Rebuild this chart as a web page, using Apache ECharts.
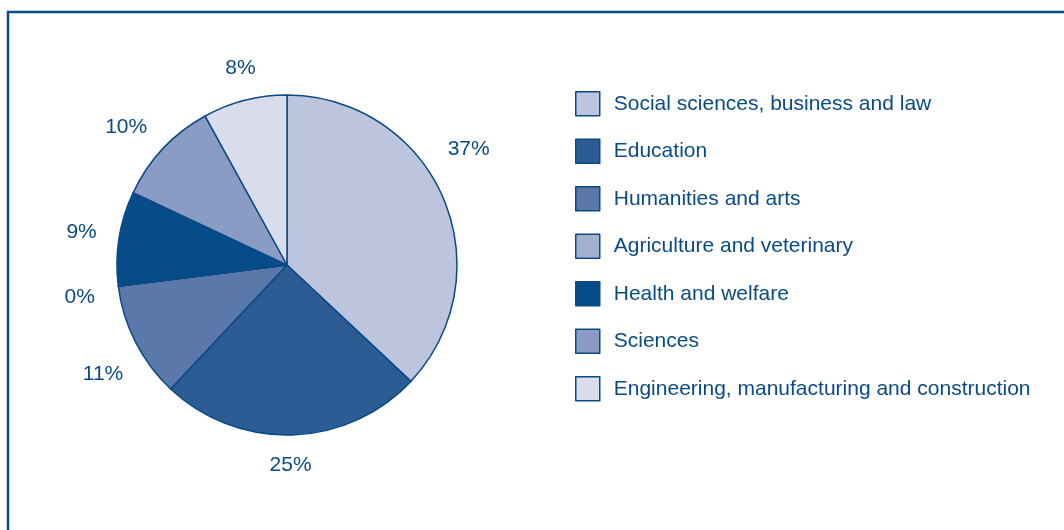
<!DOCTYPE html>
<html>
<head>
<meta charset="utf-8">
<script src="https://cdn.jsdelivr.net/npm/echarts@6/dist/echarts.min.js"></script>
<style>
  html, body { margin: 0; padding: 0; background: #ffffff; }
  #chart { width: 1064px; height: 530px; }
</style>
</head>
<body>
<div id="chart"></div>
<script>
// Share of graduates by field of study (%)
const fields = [
  'Social sciences, business and law',
  'Education',
  'Humanities and arts',
  'Agriculture and veterinary',
  'Health and welfare',
  'Sciences',
  'Engineering, manufacturing and construction'
];
const shares = [37, 25, 11, 0, 9, 10, 8];
const fieldColors = ['#bcc4de', '#2d5c95', '#5a78a9', '#a3b1d1', '#064c89', '#8a9cc4', '#d9dcea'];

const ink = '#0a4a85';
const font = '"Liberation Sans", Arial, sans-serif';

const pieData = fields.map((name, i) => ({
  name: name,
  value: shares[i],
  itemStyle: { color: fieldColors[i] }
}));

// small nudges for a few percentage labels so they sit clear of the rim
const labelNudge = { 0: [-12, -32], 1: [-3, -11], 2: [4, 13], 3: [2, 6], 4: [3, 0], 5: [-7, 7], 6: [6, 8] };

const chart = echarts.init(document.getElementById('chart'), null, { renderer: 'canvas' });

chart.setOption({
  backgroundColor: '#ffffff',
  animation: false,
  graphic: [{
    type: 'rect',
    shape: { x: 8, y: 12, width: 1100, height: 560 },
    style: { fill: 'none', stroke: ink, lineWidth: 2.5 },
    silent: true,
    z: 0
  }],
  legend: {
    orient: 'vertical',
    left: 575,
    top: 91,
    padding: 0,
    itemWidth: 24,
    itemHeight: 24,
    itemGap: 22,
    icon: 'rect',
    data: fields,
    itemStyle: { borderColor: ink, borderWidth: 1.5 },
    textStyle: {
      color: ink,
      fontFamily: font,
      fontSize: 21,
      padding: [0, 0, 0, 9]
    },
    selectedMode: false
  },
  series: [
    {
      type: 'pie',
      center: [287, 265],
      radius: 170,
      startAngle: 90,
      clockwise: true,
      silent: true,
      label: { show: false },
      labelLine: { show: false },
      itemStyle: { borderColor: ink, borderWidth: 1.5 },
      data: pieData
    },
    {
      // transparent ring used only to place the percentage labels around the pie
      type: 'pie',
      center: [287, 265],
      radius: [196, 220],
      startAngle: 90,
      clockwise: true,
      silent: true,
      legendHoverLink: false,
      itemStyle: { color: 'rgba(0,0,0,0)', borderWidth: 0 },
      labelLine: { show: false },
      label: {
        show: true,
        position: 'inside',
        rotate: 0,
        color: ink,
        fontFamily: font,
        fontSize: 21,
        formatter: p => p.value + '%'
      },
      data: fields.map((name, i) => ({
        name: name,
        value: shares[i],
        label: labelNudge[i] ? { offset: labelNudge[i] } : {}
      }))
    }
  ]
});
</script>
</body>
</html>
